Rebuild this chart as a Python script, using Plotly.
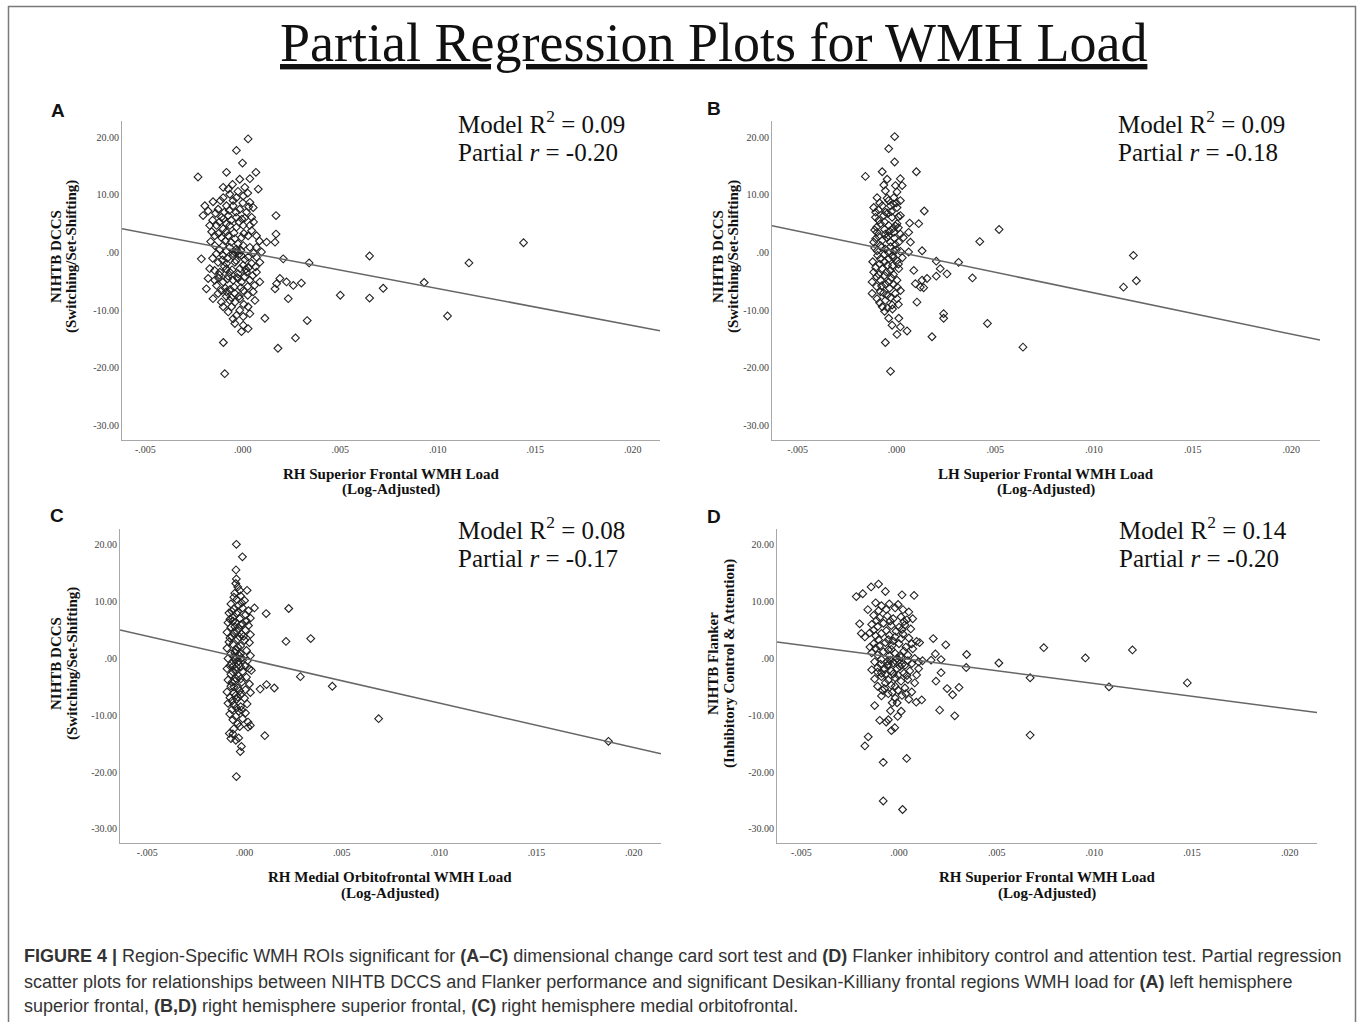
import plotly.graph_objects as go

W, H = 1357, 1022

# ---------------- data ----------------
title_text = "Partial Regression Plots for WMH Load"
panel_letters = ["A", "B", "C", "D"]
x_titles = ["RH Superior Frontal WMH Load", "LH Superior Frontal WMH Load",
            "RH Medial Orbitofrontal WMH Load", "RH Superior Frontal WMH Load"]
x_subtitle = "(Log-Adjusted)"
y_titles = [("NIHTB DCCS", "(Switching/Set-Shifting)"),
            ("NIHTB DCCS", "(Switching/Set-Shifting)"),
            ("NIHTB DCCS", "(Switching/Set-Shifting)"),
            ("NIHTB Flanker", "(Inhibitory Control & Attention)")]
model_r2 = ["0.09", "0.09", "0.08", "0.14"]
partial_r = ["-0.20", "-0.18", "-0.17", "-0.20"]
fit_intercept = [0.15, 0.15, 0.0, 0.1]
fit_slope = [-640, -715, -785, -450]

x_tick_vals = [-0.005, 0.0, 0.005, 0.010, 0.015, 0.020]
x_tick_text = ["-.005", ".000", ".005", ".010", ".015", ".020"]
y_tick_vals = [20, 10, 0, -10, -20, -30]
y_tick_text = ["20.00", "10.00", ".00", "-10.00", "-20.00", "-30.00"]

# points: (WMH load x 1000, residual score)
a_points = [
    (0.27, 19.7), (-0.33, 17.7), (-0.02, 15.5), (-2.30, 13.1), (-0.84, 13.9), (0.67, 13.9),
    (-0.53, 11.8), (-0.16, 12.7), (0.36, 12.8), (-1.01, 11.3), (0.10, 11.3), (0.79, 11.0),
    (-1.95, 8.1), (-1.53, 8.8), (-2.04, 6.4), (-1.78, 7.2), (-1.01, 9.5), (-0.67, 10.1),
    (-0.33, 9.5), (0.02, 9.8), (0.36, 8.7), (0.53, 7.8), (-1.27, 7.5), (-0.84, 8.1),
    (-0.50, 8.1), (-0.16, 7.5), (0.19, 7.0), (-1.10, 6.1), (-0.75, 6.4), (-0.33, 6.1),
    (0.45, 6.1), (1.70, 6.4), (-1.70, 4.7), (-1.35, 4.7), (-1.01, 4.1), (-0.67, 4.7),
    (-0.33, 4.4), (0.02, 4.7), (0.36, 4.7), (-1.44, 2.9), (-1.10, 2.6), (-0.75, 2.9),
    (-0.41, 2.4), (-0.07, 2.6), (0.27, 2.9), (0.70, 2.9), (1.70, 3.2), (1.65, 1.8),
    (-1.44, 1.2), (-1.01, 1.2), (-0.67, 0.9), (-0.33, 0.6), (0.02, 1.2), (0.36, 0.9),
    (0.70, 0.9), (1.22, 1.8), (0.96, 0.1), (-2.13, -1.1), (-1.35, -0.2), (-1.01, -0.5),
    (-0.50, -0.2), (-0.07, -0.5), (0.27, -0.8), (0.70, -0.8), (2.07, -1.1),
    (-1.27, -1.7), (-0.84, -1.9), (-0.41, -1.7), (0.02, -2.2), (0.45, -1.9), (0.87, -1.7),
    (-1.70, -2.8), (-1.18, -3.4), (-0.67, -3.4), (-0.24, -3.7), (0.19, -3.4), (0.70, -3.4),
    (-1.78, -4.5), (-1.44, -4.8), (-1.01, -5.1), (-0.50, -4.8), (-0.07, -5.1), (0.36, -4.8),
    (0.87, -5.1), (1.73, -5.4), (1.90, -4.5), (2.24, -5.1), (2.59, -5.7), (1.65, -6.3),
    (-1.87, -6.3), (-1.35, -5.7), (-1.27, -7.1), (-0.84, -6.8), (-0.41, -7.1), (0.02, -6.6),
    (0.53, -6.8), (-1.53, -8.0), (-1.10, -8.6), (-0.67, -8.3), (-0.16, -8.0), (0.62, -8.3),
    (2.33, -8.0), (-1.01, -9.4), (-0.58, -9.4), (-0.16, -10.0), (0.27, -9.4), (-0.33, -10.9),
    (0.02, -11.1), (0.36, -10.6), (1.13, -11.4), (-0.41, -12.3), (0.02, -12.6), (0.27, -13.2),
    (-0.07, -13.7), (-1.00, -15.6), (1.80, -16.6), (2.70, -14.8), (-0.93, -21.0),
    (-0.30, 0.2), (-0.20, -0.3), (-0.40, 0.0), (-0.10, 0.4), (-0.50, -0.6), (-0.25, 1.5),
    (-0.60, 1.8), (-0.90, 2.0), (0.10, -1.2), (-0.35, -1.4), (-0.80, -1.0), (-0.15, -2.8),
    (-0.55, -3.0), (-0.95, -2.4), (0.30, -2.6), (-0.45, 3.4), (-0.85, 3.6), (0.05, 3.3),
    (-0.20, 5.3), (-0.60, 5.6), (-1.00, 5.8), (-0.35, 7.0), (-0.70, 7.3), (0.10, 6.0),
    (-0.30, -4.3), (-0.75, -4.1), (0.10, -4.2), (-1.20, -3.9), (-0.45, -6.0), (-0.90, -6.2),
    (0.25, -5.9), (-0.20, -7.6), (-0.60, -7.8), (0.00, 8.6), (-0.50, 9.0),
    (-1.15, 9.0), (-0.25, 10.6), (0.25, 10.3), (-0.75, 11.0), (-1.40, 6.8), (-0.95, 7.0),
    (0.30, 7.9), (-1.55, 5.6), (-1.20, 5.3), (-0.85, 5.0), (-0.05, 5.8), (0.55, 5.3),
    (-1.60, 3.6), (-1.25, 3.3), (0.45, 3.8), (0.85, 2.0), (-1.65, 1.9), (-1.20, 0.5),
    (-0.85, 0.2), (0.55, -0.1), (-1.55, -1.0), (-1.05, -1.3), (0.65, -2.5), (-1.45, -3.1),
    (-0.85, -2.9), (0.50, -4.0), (-1.25, -4.4), (-0.80, -4.6), (-0.25, -4.5), (0.60, -5.7),
    (-1.10, -6.6), (-0.65, -6.4), (-0.10, -6.1), (0.25, -7.4), (-0.85, -7.6), (-0.40, -8.6),
    (0.05, -9.0), (-0.75, -10.3), (-0.50, -11.5), (0.15, -2.9),
    (3.40, -1.8), (3.00, -5.3), (3.30, -11.8), (5.00, -7.4), (6.50, -0.6), (6.50, -7.9),
    (7.20, -6.2), (9.30, -5.2), (10.50, -11.0), (11.60, -1.8), (14.40, 1.7),
]

b_points = [
    (-0.09, 20.1), (-0.39, 18.0), (-0.09, 15.7), (-1.57, 13.2), (-0.72, 14.0), (1.01, 14.0),
    (-0.47, 12.7), (0.20, 12.8), (-0.64, 11.7), (-0.05, 11.6), (0.29, 11.6), (-0.56, 10.7),
    (0.03, 10.5), (-0.98, 9.5), (-0.47, 9.4), (-0.13, 9.5), (0.20, 9.0), (-1.15, 7.8),
    (-0.72, 8.1), (-0.30, 8.1), (0.03, 7.8), (1.41, 7.2), (-1.06, 6.1), (-0.64, 6.4),
    (-0.22, 6.1), (0.20, 6.4), (-0.81, 5.0), (-0.39, 4.7), (0.03, 5.0), (0.67, 5.1),
    (1.13, 5.0), (-0.98, 3.5), (-0.56, 3.2), (-0.13, 3.5), (0.20, 3.2), (0.62, 3.5),
    (-1.15, 1.8), (-0.72, 2.1), (-0.30, 1.8), (0.12, 1.8), (0.71, 1.8), (-0.98, 0.3),
    (-0.56, 0.6), (-0.13, 0.3), (0.20, 0.2), (0.62, 0.1), (1.30, 0.3), (-0.81, -1.1),
    (-0.39, -1.1), (0.03, -1.4), (2.02, -1.5), (3.15, -1.7), (-1.15, -3.4), (-0.72, -2.8),
    (-0.30, -3.1), (0.12, -2.8), (0.88, -3.1), (2.22, -2.8), (2.02, -4.1), (2.56, -3.7),
    (-1.23, -5.1), (-0.81, -4.8), (-0.39, -5.1), (0.03, -4.8), (0.96, -5.4), (1.30, -4.8),
    (1.55, -4.5), (1.21, -6.0), (-1.23, -7.1), (-0.81, -6.8), (-0.47, -7.4), (-0.05, -7.1),
    (1.38, -6.1), (-0.98, -8.0), (-0.56, -8.3), (0.03, -8.0), (1.04, -8.6), (-0.72, -9.4),
    (-0.22, -9.1), (-0.39, -11.4), (0.12, -11.4), (2.39, -10.6), (2.39, -11.4), (-0.22, -12.6),
    (0.20, -12.9), (0.54, -13.6), (0.03, -14.2), (1.80, -14.6), (-0.56, -15.6), (-0.30, -20.6),
    (-0.40, 0.0), (-0.20, -0.5), (-0.60, -0.3), (0.00, 0.5), (-0.30, 1.0), (-0.80, 1.2),
    (-0.10, 2.5), (-0.50, 2.6), (-0.90, 2.8), (0.10, -2.0), (-0.45, -2.2), (-0.85, -2.0),
    (-0.15, -3.8), (-0.60, -4.0), (-1.00, -4.2), (0.05, -6.0), (-0.35, -6.2), (-0.75, -5.8),
    (-0.20, 4.1), (-0.60, 4.0), (-1.00, 4.4), (0.10, 4.3), (-0.25, 7.1), (-0.55, 7.0),
    (-0.90, 7.4), (0.00, 8.6), (-0.40, 9.0), (-0.20, -9.8), (-0.60, -10.2), (0.20, -6.6),
    (-1.10, 0.8), (-1.20, -1.6),
    (-0.85, 8.6), (-0.15, 8.4), (-1.05, 7.0), (-0.45, 6.8), (0.10, 6.2), (-0.90, 5.6),
    (-0.60, 5.3), (-0.05, 4.6), (-1.10, 3.9), (-0.35, 3.7), (0.35, 2.6), (-1.05, 2.4),
    (-0.40, 2.9), (-0.75, 0.9), (-0.05, 1.4), (-0.95, -0.5), (-0.15, -0.9), (0.30, -0.9),
    (-0.60, -1.6), (-1.05, -2.6), (-0.20, -2.3), (-0.50, -3.4), (-0.90, -3.8), (-0.25, -4.4),
    (-0.55, -5.5), (-1.00, -5.9), (-0.15, -5.5), (-0.65, -7.0), (-0.30, -7.8), (-0.85, -8.7),
    (-0.45, -9.6), (0.10, -9.0),
    (4.22, 1.9), (5.20, 4.0), (3.85, -4.4), (4.61, -12.3), (6.41, -16.4), (12.00, -0.5),
    (12.15, -4.9), (11.50, -6.0),
]

c_points = [
    (-0.42, 20.1), (-0.11, 17.9), (-0.44, 15.6), (-0.42, 14.0), (0.13, 12.0), (0.51, 8.9),
    (1.11, 7.9), (2.27, 8.8), (2.13, 3.0), (3.40, 3.5), (2.87, -3.2), (4.51, -4.9),
    (1.13, -4.6), (1.53, -5.2), (0.80, -5.4), (6.89, -10.6), (18.70, -14.6), (1.04, -13.6),
    (-0.42, -20.8), (-0.22, -16.4), (-0.16, -15.5), (-0.60, -13.3), (-0.78, -13.2),
    (-0.76, -9.8), (0.18, -11.2), (0.18, -12.1), (0.13, -8.0), (0.24, -1.8),
    (-0.45, 13.2), (-0.35, 12.6), (-0.50, 11.5), (-0.20, 11.0), (-0.40, 10.4), (0.00, 10.2),
    (-0.70, 9.6), (-0.30, 9.4), (-0.55, 8.7), (-0.10, 8.9), (0.20, 8.4), (-0.80, 8.0),
    (-0.40, 7.9), (0.05, 7.7), (-0.60, 7.2), (-0.25, 7.0), (0.30, 7.1), (-0.85, 6.3),
    (-0.45, 6.4), (-0.10, 6.1), (0.20, 5.8), (-0.70, 5.5), (-0.30, 5.3), (0.05, 5.0),
    (-0.90, 4.6), (-0.55, 4.5), (-0.15, 4.3), (0.30, 4.2), (-0.75, 3.6), (-0.35, 3.4),
    (0.00, 3.2), (0.25, 2.8), (-0.60, 2.5), (-0.20, 2.2), (-0.90, 1.8), (-0.45, 1.5),
    (0.10, 1.4), (-0.70, 0.8), (-0.30, 0.6), (0.30, 0.5), (-0.85, 0.0), (-0.50, -0.2),
    (-0.15, 0.1), (0.15, -0.4), (-0.65, -0.9), (-0.30, -1.1), (0.05, -1.3), (-0.90, -1.8),
    (-0.45, -2.0), (-0.10, -2.3), (0.35, -2.1), (-0.70, -2.8), (-0.30, -3.1), (0.10, -3.3),
    (-0.85, -3.8), (-0.50, -4.0), (-0.15, -4.2), (0.25, -4.5), (-0.70, -4.9), (-0.35, -5.2),
    (0.05, -5.5), (-0.90, -5.9), (-0.55, -6.1), (-0.20, -6.4), (0.30, -6.0), (-0.75, -6.9),
    (-0.40, -7.2), (0.00, -7.0), (-0.85, -7.9), (-0.55, -8.2), (-0.20, -8.5), (-0.65, -9.0),
    (-0.30, -9.3), (0.05, -9.6), (-0.45, -10.2), (-0.10, -10.6), (0.30, -11.8), (-0.35, -11.5),
    (-0.55, -12.4), (-0.30, -14.0), (-0.70, -14.1), (-0.45, -14.4),
    (-0.30, -0.5), (-0.40, 0.2), (-0.20, -1.5), (-0.50, 1.0), (-0.10, -0.3), (-0.60, -1.4),
    (-0.25, 3.8), (-0.45, -3.5), (-0.35, -6.8), (-0.20, 5.9), (-0.60, 6.6), (-0.55, -5.0),
    (-0.25, 12.0), (-0.55, 10.8), (-0.15, 9.8), (-0.65, 8.3), (-0.35, 8.2), (-0.75, 6.9),
    (0.10, 6.6), (-0.50, 5.6), (-0.40, 4.8), (-0.65, 3.9), (-0.05, 3.9), (-0.80, 2.9),
    (-0.35, 2.0), (-0.55, 0.3), (-0.20, 0.8), (-0.75, -1.3), (-0.40, -1.5), (-0.60, -2.4),
    (-0.20, -3.6), (-0.65, -4.2), (-0.25, -5.7), (-0.45, -6.5), (-0.65, -7.5), (-0.40, -8.7),
    (-0.15, -9.1), (-0.60, -10.8), (-0.25, -12.0),
]

d_points = [
    (-2.19, 10.9), (-1.86, 11.4), (-1.43, 12.6), (-1.05, 13.1), (-0.70, 11.8), (0.15, 11.2),
    (0.77, 11.1), (-2.02, 6.1), (-1.60, 8.6), (-1.93, 4.4), (-1.75, 3.8), (-1.49, 2.0),
    (1.75, 3.5), (2.39, 2.4), (1.05, 2.8), (1.86, 0.8), (2.15, -0.2), (1.64, -0.3),
    (3.46, 0.7), (3.44, -1.6), (5.11, -0.8), (7.41, 1.9), (9.54, 0.1), (11.95, 1.5),
    (6.71, -3.4), (10.75, -5.0), (14.76, -4.3), (6.71, -13.5), (1.89, -4.0), (2.15, -2.5),
    (2.46, -5.3), (2.74, -6.4), (3.07, -5.1), (2.85, -10.1), (2.08, -9.1), (1.16, -7.3),
    (0.88, -7.7), (-1.25, -8.3), (-1.58, -13.8), (-1.75, -15.4), (-0.81, -18.3), (0.39, -17.6),
    (-0.81, -25.1), (0.18, -26.6), (-0.99, -10.9), (-0.66, -11.2), (-0.39, -12.7), (-0.22, -12.2),
    (-0.07, -10.2), (0.11, -9.3), (-0.44, -9.2), (-0.55, -10.8),
    (-1.20, 9.8), (-0.90, 9.3), (-0.50, 9.6), (-0.20, 8.9), (0.20, 8.6), (0.50, 8.2),
    (-1.30, 7.6), (-1.00, 7.2), (-0.60, 7.5), (-0.30, 7.0), (0.10, 7.3), (0.40, 6.8),
    (0.70, 7.0), (-1.40, 6.0), (-1.10, 5.6), (-0.80, 6.2), (-0.40, 5.8), (0.00, 5.5),
    (0.30, 5.9), (0.60, 5.2), (-1.50, 4.5), (-1.20, 4.0), (-0.90, 4.4), (-0.50, 4.1),
    (-0.20, 3.8), (0.20, 4.3), (0.50, 3.6), (0.90, 3.0), (-1.30, 2.6), (-1.00, 2.2),
    (-0.70, 2.8), (-0.35, 2.3), (0.00, 2.6), (0.35, 2.0), (0.70, 1.7), (-1.40, 1.0),
    (-1.10, 0.6), (-0.80, 1.2), (-0.50, 0.5), (-0.20, 0.9), (0.10, 0.2), (0.45, 0.6),
    (0.80, 0.0), (-1.25, -0.6), (-0.95, -1.0), (-0.60, -0.5), (-0.30, -0.8), (0.00, -0.3),
    (0.30, -1.2), (0.65, -0.9), (1.00, -0.6), (-1.40, -2.0), (-1.10, -2.4), (-0.75, -1.9),
    (-0.40, -2.2), (-0.10, -1.8), (0.25, -2.6), (0.55, -2.2), (0.90, -2.9), (-1.25, -3.6),
    (-0.90, -3.2), (-0.55, -3.8), (-0.20, -3.4), (0.10, -4.0), (0.45, -3.7), (0.80, -4.3),
    (-1.10, -4.9), (-0.75, -5.3), (-0.40, -4.7), (-0.05, -5.6), (0.30, -5.2), (0.65, -5.9),
    (-0.90, -6.6), (-0.55, -6.2), (-0.20, -7.0), (0.15, -6.5), (0.50, -7.2), (-0.35, -7.8),
    (1.00, -1.8), (1.20, -0.4), (-0.10, 0.0), (-0.20, -0.4), (0.05, 0.5), (-0.40, 1.6),
    (-0.60, -1.3), (0.15, -1.1), (-0.30, 3.1), (-0.70, -2.8), (-0.15, 4.8), (-0.05, -2.9),
    (-1.05, 8.4), (-0.65, 8.6), (-0.05, 9.5), (-1.15, 6.7), (-0.45, 6.6), (0.25, 6.5),
    (-1.30, 5.0), (-0.65, 4.9), (0.15, 5.1), (-1.05, 3.3), (-0.55, 3.3), (0.10, 3.5),
    (0.65, 2.6), (-1.20, 1.8), (-0.55, 1.5), (0.25, 1.3), (-0.90, -0.2), (-0.45, -0.3),
    (0.45, -0.4), (-1.10, -1.6), (-0.55, -1.0), (0.05, -1.4), (-0.90, -2.6), (-0.30, -2.7),
    (0.40, -3.0), (-0.70, -4.3), (-0.20, -4.9), (-0.85, -5.6), (-0.35, -6.0), (0.35, -6.2),
    (-0.10, -7.8),
]
panel_points = [a_points, b_points, c_points, d_points]

caption_lines = [
    "<b>FIGURE 4 |</b> Region-Specific WMH ROIs significant for <b>(A\u2013C)</b> dimensional change card sort test and "
    "<b>(D)</b> Flanker inhibitory control and attention test. Partial regression",
    "scatter plots for relationships between NIHTB DCCS and Flanker performance and significant "
    "Desikan-Killiany frontal regions WMH load for <b>(A)</b> left hemisphere",
    "superior frontal, <b>(B,D)</b> right hemisphere superior frontal, <b>(C)</b> right hemisphere medial orbitofrontal.",
]

# ---------------- layout (page pixel positions) ----------------
boxes = [  # x0, x1, ytop, ybottom
    (122, 660, 121, 440),
    (772, 1320, 121, 440),
    (120, 661, 529, 843),
    (777, 1317, 529, 843),
]
x_ranges = [(-0.0062, 0.0214), (-0.0063, 0.02145), (-0.0064, 0.0214), (-0.00625, 0.0214)]
y_range = (-32.5, 22.8)
letter_pos = [(58, 110), (714, 108), (57, 515), (714, 516)]
model_pos = [(456, 122, 152), (1116, 122, 152), (456, 528, 558), (1117, 528, 558)]
ytitle_pos = [(56, 72, 257), (718, 734, 257), (56, 72, 664), (713, 729, 664)]
xtitle_pos = [(391, 474, 490), (1046, 474, 490), (390, 877, 893), (1047, 877, 893)]
caption_y = [956, 981.5, 1006]

SERIF = "Liberation Serif"
SANS = "Liberation Sans"


def px(x):
    return x / W


def py(y):
    return 1 - y / H


fig = go.Figure()
layout = dict(
    width=W, height=H, margin=dict(l=0, r=0, t=0, b=0),
    paper_bgcolor="white", plot_bgcolor="white", showlegend=False,
)
annotations = []


def note(x, y, text, size, family=SERIF, xanchor="center", angle=0, color="#111"):
    annotations.append(dict(x=px(x), y=py(y), xref="paper", yref="paper", text=text,
                            showarrow=False, textangle=angle,
                            font=dict(family=family, size=size, color=color),
                            xanchor=xanchor, yanchor="middle",
                            align=xanchor if xanchor != "center" else "center"))


for i in range(4):
    sfx = "" if i == 0 else str(i + 1)
    xa, ya = "x" + sfx, "y" + sfx
    x0, x1, yt, yb = boxes[i]
    pts = panel_points[i]
    xs = [p[0] / 1000 for p in pts]
    ys = [p[1] for p in pts]
    fig.add_trace(go.Scatter(
        x=xs, y=ys, mode="markers", xaxis=xa, yaxis=ya,
        marker=dict(symbol="diamond-open", size=6, color="#222",
                    line=dict(width=1.1, color="#222")),
        hoverinfo="skip"))
    lx = list(x_ranges[i])
    ly = [fit_intercept[i] + fit_slope[i] * v for v in lx]
    fig.add_trace(go.Scatter(
        x=lx, y=ly, mode="lines", xaxis=xa, yaxis=ya,
        line=dict(color="#666", width=1.5), hoverinfo="skip"))

    layout["xaxis" + sfx] = dict(
        domain=[px(x0), px(x1)], anchor=ya, range=list(x_ranges[i]),
        showline=True, linecolor="#a8a8a8", linewidth=1, showgrid=False, zeroline=False,
        ticks="", tickmode="array", tickvals=x_tick_vals, ticktext=x_tick_text,
        tickfont=dict(family=SERIF, size=10, color="#444"))
    layout["yaxis" + sfx] = dict(
        domain=[py(yb), py(yt)], anchor=xa, range=list(y_range),
        showline=True, linecolor="#a8a8a8", linewidth=1, showgrid=False, zeroline=False,
        ticks="", tickmode="array", tickvals=y_tick_vals, ticktext=y_tick_text,
        tickfont=dict(family=SERIF, size=10, color="#444"))

    lxp, lyp = letter_pos[i]
    note(lxp, lyp, "<b>%s</b>" % panel_letters[i], 19, family=SANS)
    mx, my1, my2 = model_pos[i]
    note(mx, my1, "Model R<sup>2</sup> = %s" % model_r2[i], 25, xanchor="left")
    note(mx, my2, "Partial <i>r</i> = %s" % partial_r[i], 25, xanchor="left")
    tx1, tx2, ty = ytitle_pos[i]
    note(tx1, ty, "<b>%s</b>" % y_titles[i][0], 15, angle=-90)
    note(tx2, ty, "<b>%s</b>" % y_titles[i][1], 15, angle=-90)
    cx, cy1, cy2 = xtitle_pos[i]
    note(cx, cy1, "<b>%s</b>" % x_titles[i], 15)
    note(cx, cy2, "<b>%s</b>" % x_subtitle, 15)

# main title
note(713, 43, "<u>%s</u>" % title_text, 54)

# caption
for line, yy in zip(caption_lines, caption_y):
    note(22, yy, line, 18, family=SANS, xanchor="left", color="#333")

layout["annotations"] = annotations
layout["shapes"] = [dict(type="rect", xref="paper", yref="paper",
                         x0=px(8.5), x1=px(1355.5), y0=-0.02, y1=py(6.5),
                         line=dict(color="#7a7a7a", width=1.5), fillcolor="rgba(0,0,0,0)")]
fig.update_layout(**layout)
# remove the browser's default body margin so the page is exactly the figure
fig.write_html("out.html", config={"displayModeBar": False},
               post_script="document.body.style.margin='0px';")
